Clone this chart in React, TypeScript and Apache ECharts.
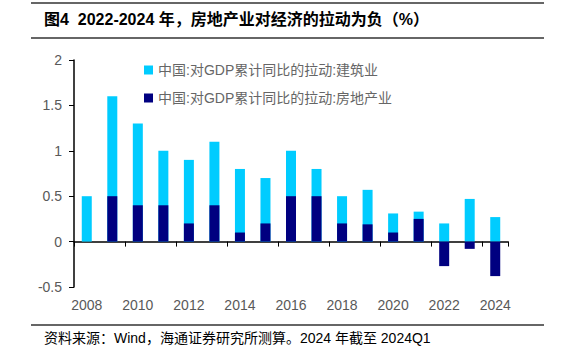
import React, { useEffect, useRef } from "react";
import * as echarts from "echarts";

const years = ["2008","2009","2010","2011","2012","2013","2014","2015","2016","2017","2018","2019","2020","2021","2022","2023","2024"];
const construction = [0.5, 1.6, 1.3, 1.0, 0.9, 1.1, 0.8, 0.7, 1.0, 0.8, 0.5, 0.57, 0.31, 0.33, 0.2, 0.47, 0.27];
const realEstate = [0, 0.5, 0.4, 0.4, 0.2, 0.4, 0.1, 0.2, 0.5, 0.5, 0.2, 0.19, 0.1, 0.25, -0.27, -0.08, -0.38];
const seriesNames = ["中国:对GDP累计同比的拉动:建筑业", "中国:对GDP累计同比的拉动:房地产业"];
const titleText = "图4  2022-2024 年，房地产业对经济的拉动为负（%）";
const sourceText = "资料来源：Wind，海通证券研究所测算。2024 年截至 2024Q1";

const FONT = "'Liberation Sans', 'Noto Sans CJK SC', sans-serif";

export default function App() {
  const ref = useRef<HTMLDivElement>(null);
  useEffect(() => {
    if (!ref.current) return;
    const chart = echarts.init(ref.current, null, { renderer: "svg" });
    chart.setOption({
      animation: false,
      textStyle: { fontFamily: FONT },
      grid: { left: 74, right: 63, top: 60, bottom: 72 },
      legend: {
        orient: "vertical",
        left: 139,
        top: 58,
        itemWidth: 9,
        itemHeight: 9,
        itemGap: 14,
        icon: "rect",
        textStyle: { color: "#666666", fontSize: 14, fontFamily: FONT },
        data: seriesNames,
      },
      xAxis: {
        type: "category",
        data: years,
        axisLine: { onZero: true, lineStyle: { color: "#000", width: 1.5 } },
        axisTick: { show: true, interval: 1, length: 5, lineStyle: { color: "#000" } },
        axisLabel: { interval: 1, margin: 11, color: "#595959", fontSize: 14, fontFamily: FONT },
        splitLine: { show: false },
      },
      yAxis: {
        type: "value",
        min: -0.5,
        max: 2,
        interval: 0.5,
        axisLine: { show: true, lineStyle: { color: "#000", width: 1.5 } },
        axisTick: { show: true, length: 5, lineStyle: { color: "#000" } },
        axisLabel: { color: "#595959", fontSize: 14, margin: 12, fontFamily: FONT },
        splitLine: { show: false },
      },
      series: [
        {
          name: seriesNames[0],
          type: "bar",
          data: construction,
          barWidth: 10,
          barGap: "-100%",
          itemStyle: { color: "#00CCFF" },
        },
        {
          name: seriesNames[1],
          type: "bar",
          data: realEstate,
          barWidth: 10,
          barGap: "-100%",
          itemStyle: { color: "#000080" },
        },
      ],
      graphic: [
        { type: "line", shape: { x1: 31, y1: 3, x2: 544, y2: 3 }, style: { stroke: "#333", lineWidth: 1.5 } },
        { type: "line", shape: { x1: 31, y1: 38, x2: 544, y2: 38 }, style: { stroke: "#333", lineWidth: 1.5 } },
        {
          type: "text",
          left: 44,
          top: 11,
          style: { text: titleText, fill: "#000", font: "bold 16px " + FONT },
        },
        { type: "line", shape: { x1: 31, y1: 325, x2: 544, y2: 325 }, style: { stroke: "#333", lineWidth: 1.5 } },
        {
          type: "text",
          left: 44,
          top: 331,
          style: { text: sourceText, fill: "#000", font: "14px " + FONT },
        },
      ],
    });
    return () => chart.dispose();
  }, []);
  return <div ref={ref} style={{ position: "absolute", left: 0, top: 0, width: 571, height: 359 }} />;
}
